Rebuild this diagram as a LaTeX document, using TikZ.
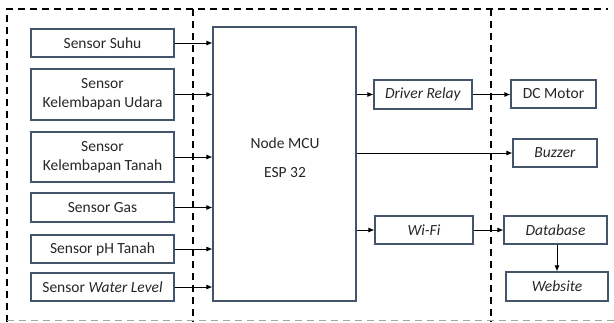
\documentclass[tikz,border=0pt]{standalone}
\usepackage{fontspec}
\setmainfont{Carlito}
\usetikzlibrary{arrows.meta}
\definecolor{boxline}{HTML}{44546A}
\definecolor{txt}{HTML}{262626}
\begin{document}
\begin{tikzpicture}[x=1pt,y=-1pt,
  blk/.style={draw=boxline,line width=1.2pt,text=txt,inner sep=0pt,align=center,font=\fontsize{15.5}{19}\selectfont},
  conn/.style={line width=0.8pt,-{Latex[length=6pt,width=5pt]}},
  frame/.style={line width=1.5pt,dash pattern=on 7pt off 5pt}]
\useasboundingbox (0,0) rectangle (614,322);
% frame
\draw[frame] (7,322) -- (7,9) -- (608,9);
\draw[frame] (193,9) -- (193,322);
\draw[frame] (491,9) -- (491,322);
\draw[line width=1pt,gray!70,dash pattern=on 7pt off 5pt] (7,320.5) -- (614,320.5);
% left sensors
\node[blk,minimum width=143pt,minimum height=28pt] (s1) at (102.5,43) {Sensor Suhu};
\node[blk,minimum width=143pt,minimum height=51pt] (s2) at (102.5,94.5) {Sensor\\Kelembapan Udara};
\node[blk,minimum width=143pt,minimum height=50pt] (s3) at (102.5,157) {Sensor\\Kelembapan Tanah};
\node[blk,minimum width=143pt,minimum height=29pt] (s4) at (102.5,207.5) {Sensor Gas};
\node[blk,minimum width=143pt,minimum height=28pt] (s5) at (102.5,249) {Sensor pH Tanah};
\node[blk,minimum width=143pt,minimum height=28pt] (s6) at (102.5,287) {Sensor \textit{Water Level}};
% MCU
\node[blk,minimum width=143pt,minimum height=274pt] (mcu) at (284.5,164) {};
\node[text=txt,font=\fontsize{15.5}{19}\selectfont] (mcut1) at (285,143) {Node MCU};
\node[text=txt,font=\fontsize{15.5}{19}\selectfont] (mcut2) at (285,173) {ESP 32};
% middle
\node[blk,minimum width=98pt,minimum height=29pt] (relay) at (423,94.5) {\textit{Driver Relay}};
\node[blk,minimum width=98pt,minimum height=28pt] (wifi) at (424,230) {\textit{Wi-Fi}};
% right
\node[blk,minimum width=85pt,minimum height=28pt] (motor) at (553.5,94) {DC Motor};
\node[blk,minimum width=84pt,minimum height=28pt] (buzzer) at (555,153) {\textit{Buzzer}};
\node[blk,minimum width=103pt,minimum height=28pt] (db) at (555.5,230) {\textit{Database}};
\node[blk,minimum width=102pt,minimum height=29pt] (web) at (557,286.5) {\textit{Website}};
% connectors
\draw[conn] (s1.east) -- (s1.east -| mcu.west);
\draw[conn] (s2.east) -- (s2.east -| mcu.west);
\draw[conn] (s3.east) -- (s3.east -| mcu.west);
\draw[conn] (s4.east) -- (s4.east -| mcu.west);
\draw[conn] (s5.east) -- (s5.east -| mcu.west);
\draw[conn] (s6.east) -- (s6.east -| mcu.west);
\draw[conn] (relay.west -| mcu.east) -- (relay.west);
\draw[conn] (relay.east) -- (relay.east -| motor.west);
\draw[conn] (buzzer.west -| mcu.east) -- (buzzer.west);
\draw[conn] (wifi.west -| mcu.east) -- (wifi.west);
\draw[conn] (wifi.east) -- (wifi.east -| db.west);
\draw[conn] (db.south -| web.north) -- (web.north);
\end{tikzpicture}
\end{document}
